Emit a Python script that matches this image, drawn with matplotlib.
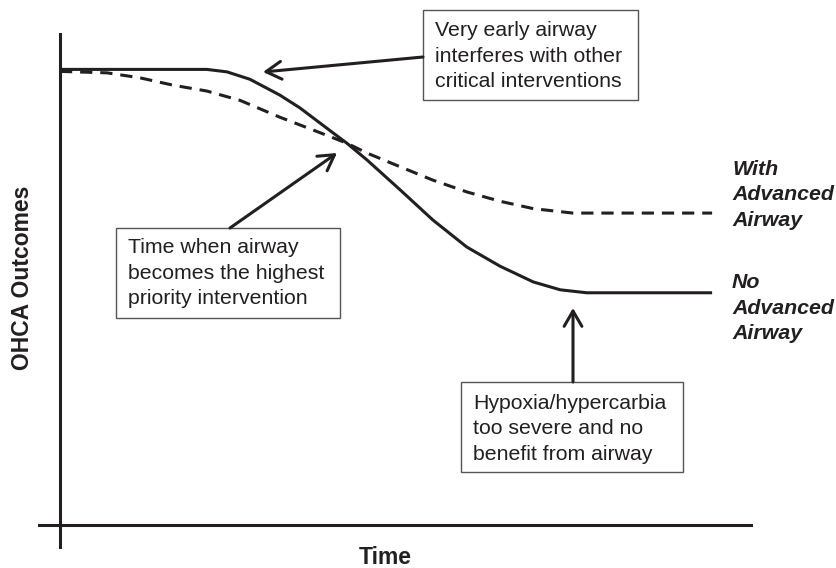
"""
Schematic of OHCA outcomes vs time, with and without an advanced airway.
"""

import matplotlib
matplotlib.use('Agg')
import matplotlib.pyplot as plt
from matplotlib.patches import Rectangle

W, H = 836, 568
INK = '#231f20'

# Curve values (time, outcome on a 0-100 scale).
t_no_airway = [0.0, 21.2, 24.1, 27.4, 31.7, 34.6, 39.4, 41.4, 44.3, 49.1,
               53.8, 58.7, 63.5, 68.3, 72.2, 76.0, 94.1]
y_no_airway = [92.6, 92.6, 92.1, 90.6, 87.4, 84.8, 79.7, 77.6, 74.2, 68.1,
               62.0, 56.5, 52.6, 49.4, 47.8, 47.2, 47.2]

t_with_airway = [0.0, 6.8, 11.5, 16.3, 21.2, 26.0, 31.7, 36.5, 41.4, 44.3,
                 49.1, 53.8, 58.7, 63.5, 68.3, 74.0, 94.1]
y_with_airway = [92.2, 91.9, 90.9, 89.4, 88.2, 86.3, 82.9, 80.3, 77.6, 75.6,
                 72.8, 70.1, 67.7, 65.8, 64.3, 63.4, 63.4]

label_with = 'With\nAdvanced\nAirway'
label_no = 'No\nAdvanced\nAirway'
note_early = 'Very early airway\ninterferes with other\ncritical interventions'
note_priority = 'Time when airway\nbecomes the highest\npriority intervention'
note_late = 'Hypoxia/hypercarbia\ntoo severe and no\nbenefit from airway'

plt.rcParams['font.family'] = ['Liberation Sans', 'DejaVu Sans']


def f(x, y):
    # pixel position (top-left origin) -> figure fraction
    return x / W, 1 - y / H


def main():
    fig = plt.figure(figsize=(W / 100, H / 100), dpi=100)
    ax = fig.add_axes([38 / W, 1 - 549 / H, (753 - 38) / W, (549 - 33) / H])
    ax.set_xlim(-3.17, 100)
    ax.set_ylim(-4.88, 100)
    ax.axis('off')

    ax.axhline(0, color=INK, lw=2.2)
    ax.axvline(0, color=INK, lw=2.2)

    ax.plot(t_with_airway, y_with_airway, color=INK, lw=2.2,
            ls=(0, (4.0, 2.6)), solid_joinstyle='round')
    ax.plot(t_no_airway, y_no_airway, color=INK, lw=2.2,
            solid_joinstyle='round', solid_capstyle='butt')

    # right-hand curve labels
    fig.text(*f(732, 195), label_with, fontsize=15.4, fontweight='bold',
             fontstyle='italic', color=INK, ha='left', va='center',
             linespacing=1.45)
    fig.text(*f(732, 308), label_no, fontsize=15.4, fontweight='bold',
             fontstyle='italic', color=INK, ha='left', va='center',
             linespacing=1.45)

    # axis titles
    fig.text(*f(23, 278), 'OHCA Outcomes', fontsize=16.5, fontweight='bold',
             rotation=90, color=INK, ha='center', va='center')
    fig.text(*f(385, 557), 'Time', fontsize=16.5, fontweight='bold',
             color=INK, ha='center', va='center')

    # annotation boxes: (left, top, right, bottom, text left, text mid, text)
    boxes = [
        (423, 10, 638, 100, 435, 56, note_early),
        (116, 228, 340, 318, 128, 273, note_priority),
        (461, 382, 683, 472, 473, 429, note_late),
    ]
    for x0, y0, x1, y1, tx, ty, txt in boxes:
        fig.patches.append(Rectangle(f(x0, y1), (x1 - x0) / W, (y1 - y0) / H,
                                     transform=fig.transFigure, fill=False,
                                     edgecolor='#555555', lw=1.0))
        fig.text(*f(tx, ty), txt, fontsize=15.3, color=INK, ha='left',
                 va='center', linespacing=1.42)

    arrows = [
        ((423, 57), (263, 72)),
        ((230, 228), (337, 153)),
        ((573, 382), (573, 308)),
    ]
    for start, tip in arrows:
        fig.add_artist(plt.Annotation(
            '', xy=f(*tip), xytext=f(*start), xycoords='figure fraction',
            textcoords='figure fraction',
            arrowprops=dict(arrowstyle='->,head_length=0.55,head_width=0.32',
                            color=INK, lw=2.2, mutation_scale=20,
                            shrinkA=0, shrinkB=0)))

    fig.savefig('out.png', dpi=100)


if __name__ == '__main__':
    main()
